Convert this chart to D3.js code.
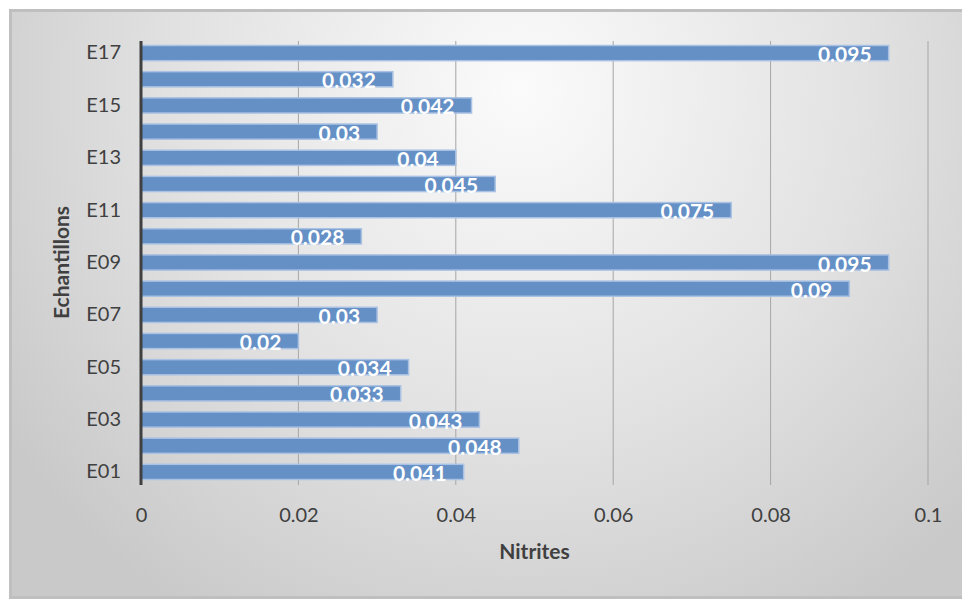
<!DOCTYPE html>
<html>
<head>
<meta charset="utf-8">
<script src="https://cdn.jsdelivr.net/npm/d3@7"></script>
<style>
  html, body { margin: 0; padding: 0; background: #ffffff; }
  svg { display: block; font-family: Lato, "Open Sans", sans-serif; }
</style>
</head>
<body>
<svg id="chart" width="962" height="601"></svg>
<script>
// Nitrite concentration per sample
const categories = ["E01","E02","E03","E04","E05","E06","E07","E08","E09",
                    "E10","E11","E12","E13","E14","E15","E16","E17"];
const values = [0.041, 0.048, 0.043, 0.033, 0.034, 0.02, 0.03, 0.09, 0.095,
                0.028, 0.075, 0.045, 0.04, 0.03, 0.042, 0.032, 0.095];
const xTicks = [0, 0.02, 0.04, 0.06, 0.08, 0.1];
const xTitle = "Nitrites";
const yTitle = "Echantillons";

const svg = d3.select("#chart");
const defs = svg.append("defs");

// Chart-area background: soft radial shading
const grad = defs.append("radialGradient")
  .attr("id", "bg").attr("gradientUnits", "userSpaceOnUse")
  .attr("cx", 520).attr("cy", 90).attr("r", 620);
grad.append("stop").attr("offset", "0").attr("stop-color", "#fbfbfb");
grad.append("stop").attr("offset", "0.55").attr("stop-color", "#e2e2e2");
grad.append("stop").attr("offset", "1").attr("stop-color", "#c9c9c9");

svg.append("rect")
  .attr("x", 10.5).attr("y", 10.5).attr("width", 960).attr("height", 587)
  .attr("fill", "url(#bg)").attr("stroke", "#bfbfbf").attr("stroke-width", 3);

const plot = { left: 141, right: 928, top: 40, bottom: 485 };

const x = d3.scaleLinear().domain([0, 0.1]).range([plot.left, plot.right]);
const y = d3.scaleBand().domain(categories.slice().reverse())
  .range([plot.top, plot.bottom]).paddingInner(0.42).paddingOuter(0.21);

// Vertical gridlines
svg.append("g")
  .selectAll("line").data(xTicks.slice(1)).join("line")
  .attr("x1", d => x(d)).attr("x2", d => x(d))
  .attr("y1", plot.top + 1).attr("y2", plot.bottom)
  .attr("stroke", "#a6a6a6").attr("stroke-width", 1);

// Bars
svg.append("g")
  .selectAll("rect").data(categories).join("rect")
  .attr("x", x(0))
  .attr("y", d => y(d))
  .attr("width", (d, i) => x(values[i]) - x(0))
  .attr("height", y.bandwidth())
  .attr("fill", "#6590c6")
  .attr("stroke", "#a9c1e2").attr("stroke-width", 1.5);

// Value labels inside bar ends
svg.append("g")
  .selectAll("text").data(categories).join("text")
  .attr("x", (d, i) => x(values[i]) - 17)
  .attr("y", d => y(d) + y.bandwidth() / 2 + 9)
  .attr("text-anchor", "end")
  .attr("fill", "#ffffff").attr("font-weight", "bold").attr("font-size", 21)
  .text((d, i) => String(values[i]));

// X axis tick labels
const xAxis = d3.axisBottom(x).tickValues(xTicks).tickSize(0).tickPadding(0)
  .tickFormat(d => String(d));
const gx = svg.append("g").attr("transform", `translate(0,${plot.bottom + 23})`).call(xAxis);
gx.select(".domain").remove();
gx.selectAll("text").attr("font-size", 20).attr("fill", "#404040")
  .attr("font-family", "Lato, sans-serif").attr("dy", "0.71em");

// Y axis: labels on every other category
const yAxis = d3.axisLeft(y).tickSize(0).tickPadding(0)
  .tickFormat((d, i) => (categories.indexOf(d) % 2 === 0 ? d : ""));
const gy = svg.append("g").attr("transform", `translate(${plot.left - 20},0)`).call(yAxis);
gy.select(".domain").remove();
gy.selectAll("text").attr("font-size", 20).attr("fill", "#404040")
  .attr("font-family", "Lato, sans-serif");

// Category axis line
svg.append("line")
  .attr("x1", plot.left).attr("x2", plot.left)
  .attr("y1", plot.top + 1).attr("y2", plot.bottom)
  .attr("stroke", "#404040").attr("stroke-width", 3);

// Axis titles
svg.append("text")
  .attr("x", (plot.left + plot.right) / 2).attr("y", 559)
  .attr("text-anchor", "middle").attr("font-weight", "bold")
  .attr("font-size", 21).attr("fill", "#404040").text(xTitle);

svg.append("text")
  .attr("transform", `translate(69,${(plot.top + plot.bottom) / 2}) rotate(-90)`)
  .attr("text-anchor", "middle").attr("font-weight", "bold")
  .attr("font-size", 21).attr("fill", "#404040").text(yTitle);
</script>
</body>
</html>
